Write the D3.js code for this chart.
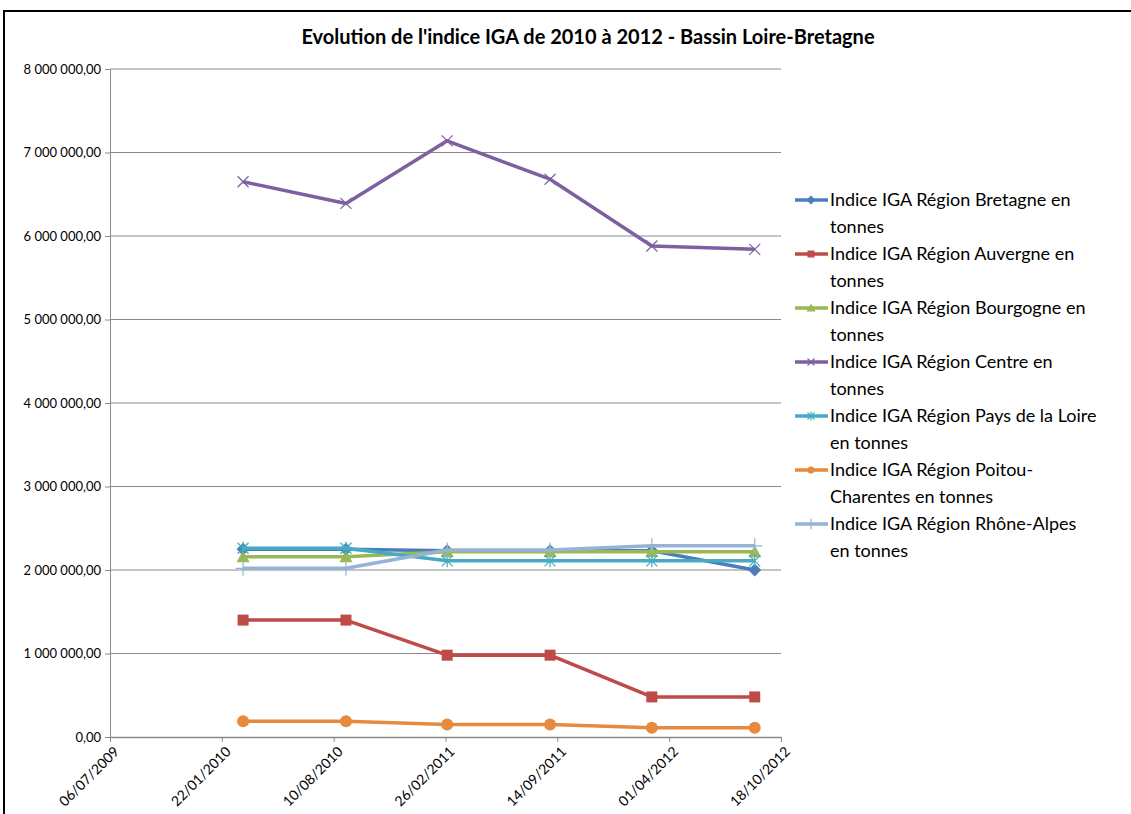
<!DOCTYPE html>
<html>
<head>
<meta charset="utf-8">
<script src="https://cdn.jsdelivr.net/npm/d3@7"></script>
<style>
  body { margin: 0; background: #fff; }
  svg, svg text { font-family: Lato, "Open Sans", sans-serif; }
</style>
</head>
<body>
<div id="chart"></div>
<script>
// données
const dates = ["2010-03-01", "2010-09-01", "2011-03-01", "2011-09-01", "2012-03-01", "2012-09-01"];
const seriesNames = [
  "Indice IGA Région Bretagne en tonnes",
  "Indice IGA Région Auvergne en tonnes",
  "Indice IGA Région Bourgogne en tonnes",
  "Indice IGA Région Centre en tonnes",
  "Indice IGA Région Pays de la Loire en tonnes",
  "Indice IGA Région Poitou-Charentes en tonnes",
  "Indice IGA Région Rhône-Alpes en tonnes"
];
const bretagne = [2250000, 2250000, 2230000, 2230000, 2230000, 2000000];
const auvergne = [1400000, 1400000, 980000, 980000, 480000, 480000];
const bourgogne = [2160000, 2160000, 2220000, 2220000, 2220000, 2220000];
const centre = [6650000, 6390000, 7140000, 6680000, 5880000, 5840000];
const paysLoire = [2260000, 2260000, 2110000, 2110000, 2110000, 2110000];
const poitou = [190000, 190000, 150000, 150000, 110000, 110000];
const rhoneAlpes = [2020000, 2020000, 2240000, 2240000, 2290000, 2290000];
const xTicks = ["2009-07-06", "2010-01-22", "2010-08-10", "2011-02-26", "2011-09-14", "2012-04-01", "2012-10-18"];
const yTicks = [0, 1000000, 2000000, 3000000, 4000000, 5000000, 6000000, 7000000, 8000000];

// découpage des libellés de légende (retour à la ligne comme dans Excel)
const legendLines = [
  ["Indice IGA Région  Bretagne en", "tonnes"],
  ["Indice IGA Région  Auvergne en", "tonnes"],
  ["Indice IGA Région  Bourgogne en", "tonnes"],
  ["Indice IGA Région  Centre en", "tonnes"],
  ["Indice IGA Région  Pays de la Loire", "en tonnes"],
  ["Indice IGA Région  Poitou-", "Charentes en tonnes"],
  ["Indice IGA Région  Rhône-Alpes", "en tonnes"]
];

const allValues = [bretagne, auvergne, bourgogne, centre, paysLoire, poitou, rhoneAlpes];
const colors = ["#4A7EBB", "#BE4B48", "#98B954", "#7D60A0", "#46AAC5", "#E58A3E", "#95B3D7"];
const markers = ["diamond", "square", "triangle", "x", "star", "circle", "plus"];

const W = 1131, H = 814;
const parse = d3.timeParse("%Y-%m-%d");
const fmtDate = d3.timeFormat("%d/%m/%Y");
const locale = d3.formatLocale({ decimal: ",", thousands: "\u00a0", grouping: [3], currency: ["", "€"] });
const fmtNum = locale.format(",.2f");

const svg = d3.select("#chart").append("svg")
  .attr("width", W).attr("height", H);

// cadre du graphique
svg.append("rect")
  .attr("x", 4).attr("y", 11).attr("width", W + 10).attr("height", H + 10)
  .attr("fill", "#fff").attr("stroke", "#000").attr("stroke-width", 2);

svg.append("text")
  .attr("x", 588).attr("y", 44)
  .attr("text-anchor", "middle")
  .style("font-size", "20px").style("font-weight", "bold")
  .text("Evolution de l'indice IGA de 2010 à 2012 - Bassin Loire-Bretagne");

const x = d3.scaleTime()
  .domain([parse(xTicks[0]), parse(xTicks[xTicks.length - 1])])
  .range([110, 781]);
const y = d3.scaleLinear().domain([0, 8000000]).range([737, 69]);

// grille
svg.append("g").selectAll("line")
  .data(yTicks.filter(d => d > 0))
  .enter().append("line")
    .attr("x1", 110).attr("x2", 781)
    .attr("y1", d => y(d)).attr("y2", d => y(d))
    .attr("stroke", "#8a8a8a").attr("stroke-width", 1);

// axe Y
const yAxis = svg.append("g")
  .attr("transform", "translate(110,0)")
  .call(d3.axisLeft(y).tickValues(yTicks).tickFormat(fmtNum).tickSize(5).tickPadding(4));
yAxis.attr("font-family", null).attr("font-size", null);
yAxis.select(".domain").attr("stroke", "#8a8a8a");
yAxis.selectAll(".tick line").attr("stroke", "#8a8a8a");
yAxis.selectAll("text").style("font-size", "13px").attr("fill", "#000");

// axe X
const xAxis = svg.append("g")
  .attr("transform", "translate(0,737)")
  .call(d3.axisBottom(x).tickValues(xTicks.map(parse)).tickFormat(fmtDate).tickSize(5).tickSizeOuter(0));
xAxis.attr("font-family", null).attr("font-size", null);
xAxis.select(".domain").attr("stroke", "#8a8a8a").attr("stroke-width", 1.5);
xAxis.selectAll(".tick line").attr("stroke", "#8a8a8a");
xAxis.selectAll("text")
  .style("font-size", "14px").attr("fill", "#000")
  .attr("text-anchor", "end")
  .attr("dy", "0.35em")
  .attr("transform", "translate(6,12) rotate(-45)")
  .attr("x", 0).attr("y", 0);

function markerPath(type, s) {
  const h = s / 2;
  switch (type) {
    case "diamond": return `M0,${-h - 1}L${h + 1},0L0,${h + 1}L${-h - 1},0Z`;
    case "square": return `M${-h},${-h}H${h}V${h}H${-h}Z`;
    case "triangle": return `M0,${-h - 1}L${h + 1},${h}L${-h - 1},${h}Z`;
    case "x": return `M${-h},${-h}L${h},${h}M${-h},${h}L${h},${-h}`;
    case "star": return `M${-h},${-h}L${h},${h}M${-h},${h}L${h},${-h}M0,${-h - 1}V${h + 1}`;
    case "circle": return d3.symbol(d3.symbolCircle, Math.PI * h * h)();
    case "plus": return `M0,${-h - 2}V${h + 2}M${-h - 2},0H${h + 2}`;
  }
}
const filled = { diamond: true, square: true, triangle: true, circle: true };

const line = d3.line().x(d => x(d.date)).y(d => y(d.value));

allValues.forEach((vals, i) => {
  const data = vals.map((v, j) => ({ date: parse(dates[j]), value: v }));
  const g = svg.append("g");
  g.append("path")
    .datum(data)
    .attr("d", line)
    .attr("fill", "none")
    .attr("stroke", colors[i])
    .attr("stroke-width", 3.5)
    .attr("stroke-linejoin", "round");
  g.selectAll("path.m")
    .data(data)
    .enter().append("path")
      .attr("class", "m")
      .attr("transform", d => `translate(${x(d.date)},${y(d.value)})`)
      .attr("d", markerPath(markers[i], markers[i] === "circle" ? 12 : 11))
      .attr("fill", filled[markers[i]] ? colors[i] : "none")
      .attr("stroke", colors[i])
      .attr("stroke-width", filled[markers[i]] ? 0 : 1.2);
});

// légende
const legend = svg.selectAll(".legend")
  .data(seriesNames)
  .enter().append("g")
    .attr("class", "legend")
    .attr("transform", (d, i) => `translate(0,${200 + i * 54})`);

legend.append("line")
  .attr("x1", 795).attr("x2", 828).attr("y1", 0).attr("y2", 0)
  .attr("stroke", (d, i) => colors[i]).attr("stroke-width", 3.5);
legend.append("path")
  .attr("transform", "translate(811,0)")
  .attr("d", (d, i) => markerPath(markers[i], 7))
  .attr("fill", (d, i) => filled[markers[i]] ? colors[i] : "none")
  .attr("stroke", (d, i) => colors[i])
  .attr("stroke-width", (d, i) => filled[markers[i]] ? 0 : 1.2);
legend.each(function (d, i) {
  const t = d3.select(this).append("text")
    .attr("x", 830).attr("y", 6)
    .style("font-size", "18px").attr("fill", "#000");
  legendLines[i].forEach((s, k) => {
    t.append("tspan").attr("x", 830).attr("dy", k === 0 ? 0 : 27).text(s);
  });
});
</script>
</body>
</html>
